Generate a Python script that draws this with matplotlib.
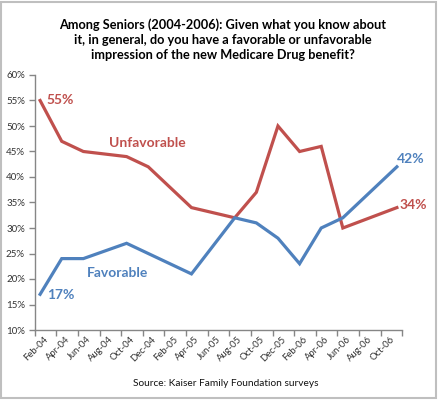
import matplotlib
matplotlib.use("Agg")
import matplotlib.pyplot as plt
from matplotlib.patches import Rectangle
from matplotlib.ticker import FixedLocator, NullFormatter, FuncFormatter

plt.rcParams["font.family"] = ["Lato", "DejaVu Sans"]

# months counted from Feb-04 (0) ; data points sit in the middle of each month
month_idx = [0, 2, 4, 8, 10, 14, 18, 20, 22, 24, 26, 28, 33]
unfavorable = [55, 47, 45, 44, 42, 34, 32, 37, 50, 45, 46, 30, 34]
favorable = [17, 24, 24, 27, 25, 21, 32, 31, 28, 23, 30, 32, 42]

tick_labels = ["Feb-04", "Apr-04", "Jun-04", "Aug-04", "Oct-04", "Dec-04",
               "Feb-05", "Apr-05", "Jun-05", "Aug-05", "Oct-05", "Dec-05",
               "Feb-06", "Apr-06", "Jun-06", "Aug-06", "Oct-06"]
y_ticks = [10, 15, 20, 25, 30, 35, 40, 45, 50, 55, 60]

RED = "#C0504D"
BLUE = "#4F81BD"
AXIS = "#868686"

fig = plt.figure(figsize=(4.39, 4.01), dpi=100)
ax = fig.add_axes([34.7 / 439, 1 - 330 / 401, 367.6 / 439, 255 / 401])

ax.plot(month_idx, unfavorable, color=RED, lw=2.3, solid_joinstyle="miter")
ax.plot(month_idx, favorable, color=BLUE, lw=2.3, solid_joinstyle="miter")

ax.set_xlim(-0.5, 33.5)
ax.set_ylim(10, 60)

# ticks on month boundaries, labels centred in each two-month span
bounds = [i * 2 - 0.5 for i in range(len(tick_labels) + 1)]
ax.xaxis.set_major_locator(FixedLocator(bounds))
ax.xaxis.set_major_formatter(NullFormatter())
for i, lab in enumerate(tick_labels):
    ax.text(i * 2 + 0.6, 8.4, lab, rotation=45, rotation_mode="anchor",
            ha="right", va="center", fontsize=6.8, color="#333333")

ax.yaxis.set_major_locator(FixedLocator(y_ticks))
ax.yaxis.set_major_formatter(FuncFormatter(lambda v, p: f"{v:.0f}%"))
ax.tick_params(axis="both", direction="out", length=4, color=AXIS,
               labelsize=7, labelcolor="#333333", width=1)
ax.tick_params(axis="y", pad=3)

for side in ("top", "right"):
    ax.spines[side].set_visible(False)
for side in ("left", "bottom"):
    ax.spines[side].set_color(AXIS)
    ax.spines[side].set_linewidth(1)

bold = dict(fontsize=10, fontweight="bold", ha="center", va="center")
ax.text(1.84, 55.1, "55%", color=RED, **bold)
ax.text(9.95, 46.7, "Unfavorable", color=RED, **bold)
ax.text(7.13, 21.2, "Favorable", color=BLUE, **bold)
ax.text(1.88, 16.9, "17%", color=BLUE, **bold)
ax.text(34.3, 43.5, "42%", color=BLUE, **bold)
ax.text(34.5, 34.5, "34%", color=RED, **bold)

fig.text(223 / 439, 1 - 40 / 401,
         "Among Seniors (2004-2006): Given what you know about\n"
         "it, in general, do you have a favorable or unfavorable\n"
         "impression of the new Medicare Drug benefit?",
         ha="center", va="center", fontsize=9.2, fontweight="bold",
         linespacing=1.3)
fig.text(226 / 439, 1 - 383 / 401, "Source: Kaiser Family Foundation surveys",
         ha="center", va="center", fontsize=7.3, color="#111111")

fig.patches.append(Rectangle((1.5 / 439, 1 - 397.5 / 401), 435 / 439, 396 / 401,
                             transform=fig.transFigure, fill=False,
                             edgecolor="#BFBFBF", lw=1.5))

fig.savefig("out.png", dpi=100)
